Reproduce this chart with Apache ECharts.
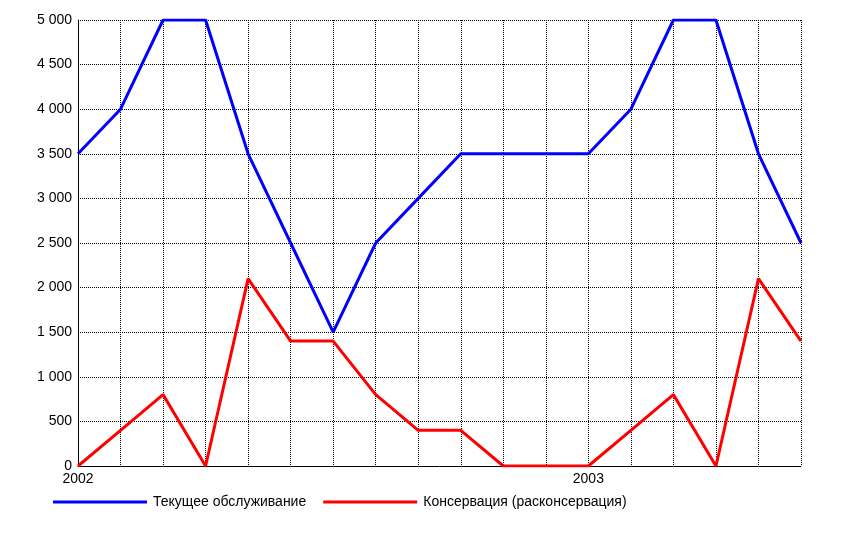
<!DOCTYPE html>
<html><head><meta charset="utf-8">
<script src="https://cdn.jsdelivr.net/npm/echarts@6/dist/echarts.min.js"></script>
<style>html,body{margin:0;padding:0;background:#fff}#c{width:841px;height:535px}</style>
</head><body><div id="c"></div>
<script>
const categories = ['2002-01','2002-02','2002-03','2002-04','2002-05','2002-06','2002-07','2002-08','2002-09','2002-10','2002-11','2002-12','2003-01','2003-02','2003-03','2003-04','2003-05','2003-06'];
const xLabels = {0:'2002', 12:'2003'};
const seriesNames = ['Текущее обслуживание','Консервация (расконсервация)'];
const maintenance = [3500,4000,5000,5000,3500,2500,1500,2500,3000,3500,3500,3500,3500,4000,5000,5000,3500,2500];
const conservation = [0,400,800,0,2100,1400,1400,800,400,400,0,0,0,400,800,0,2100,1400];

const chart = echarts.init(document.getElementById('c'), null, {renderer:'canvas'});
const font = 'Liberation Sans, Arial, sans-serif';
chart.setOption({
  animation:false,
  backgroundColor:'#fff',
  grid:{left:78,right:40,top:20,bottom:69,containLabel:false},
  legend:{
    left:53, top:495, padding:0, itemWidth:94, itemHeight:3, itemGap:17, icon:'rect',
    textStyle:{fontFamily:font,fontSize:14,color:'#000',padding:[0,0,0,1]},
    data:seriesNames
  },
  xAxis:{
    type:'category', data:categories, boundaryGap:false,
    axisLine:{lineStyle:{color:'#000',width:1}},
    axisTick:{show:false},
    axisLabel:{interval:0,margin:6,color:'#000',fontFamily:font,fontSize:14,
      formatter:(v,i)=>xLabels[i]||''},
    splitLine:{show:true,lineStyle:{color:'#000',type:[1,1],width:1}}
  },
  yAxis:{
    type:'value', min:0, max:5000, interval:500,
    axisLine:{show:true,lineStyle:{color:'#000',width:1}},
    axisTick:{show:false},
    axisLabel:{margin:6,color:'#000',fontFamily:font,fontSize:14,
      formatter:v=>String(v).replace(/\B(?=(\d{3})+(?!\d))/g,' ')},
    splitLine:{show:true,lineStyle:{color:'#000',type:[1,1],width:1}}
  },
  series:[
    {name:seriesNames[0],type:'line',data:maintenance,symbol:'none',color:'#0000ff',lineStyle:{width:3,color:'#0000ff'}},
    {name:seriesNames[1],type:'line',data:conservation,symbol:'none',color:'#ff0000',lineStyle:{width:3,color:'#ff0000'}}
  ]
});
</script></body></html>
